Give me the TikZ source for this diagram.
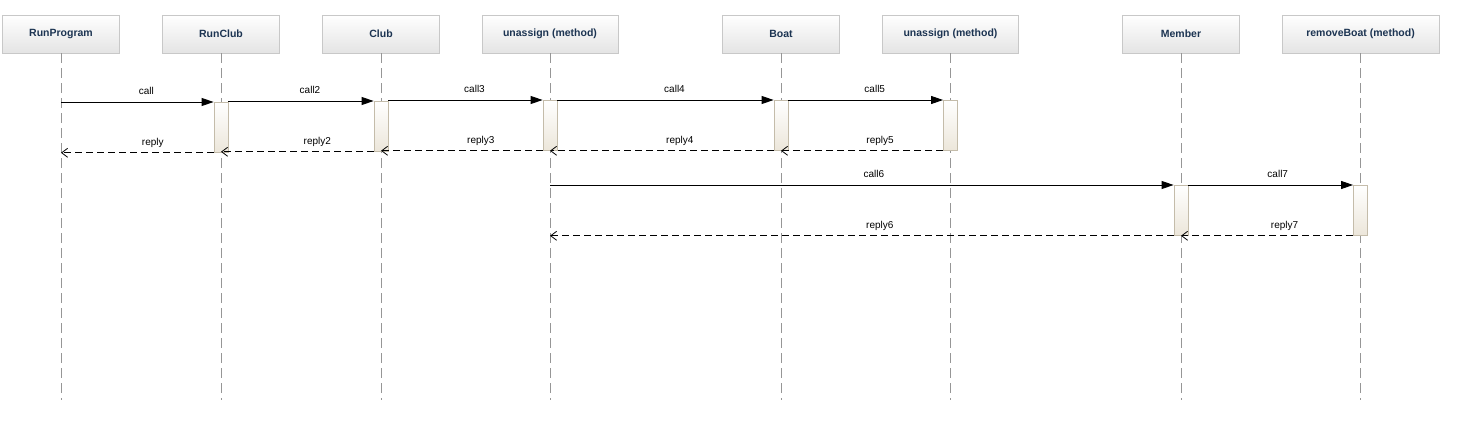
\documentclass[tikz,border=0pt]{standalone}
\usepackage{fontspec}
\setmainfont{Liberation Sans}
\usetikzlibrary{arrows.meta,calc}
\definecolor{hdrtxt}{RGB}{28,52,82}
\definecolor{hdrbdr}{RGB}{200,200,200}
\definecolor{hdrbot}{RGB}{228,228,228}
\definecolor{actbdr}{RGB}{196,188,170}
\definecolor{actbot}{RGB}{236,230,218}
\definecolor{lifegray}{RGB}{150,150,150}
\tikzset{
  header/.style={draw=hdrbdr, line width=0.8pt, top color=white, bottom color=hdrbot,
    minimum height=38pt, inner sep=0pt, text=hdrtxt,
    font=\fontsize{10.5}{12}\selectfont\bfseries},
  activ/.style={draw=actbdr, line width=0.8pt, top color=white, bottom color=actbot,
    minimum width=14pt, inner sep=0pt},
  lifeline/.style={draw=lifegray, line width=0.8pt, dash pattern=on 10pt off 5pt},
  callmsg/.style={draw=black, line width=0.9pt, -{Triangle[length=12pt,width=8pt]}},
  replymsg/.style={draw=black, line width=0.9pt, dash pattern=on 7pt off 4pt,
    -{Straight Barb[length=6pt,width=9pt,line width=0.8pt]}},
  lbl/.style={font=\fontsize{10}{12}\selectfont, anchor=base, inner sep=0pt, yshift=7pt}
}
\begin{document}
\begin{tikzpicture}[x=1pt,y=-1pt]
\useasboundingbox (0,0) rectangle (1459,435);
% headers
\node[header, minimum width=117pt] (h1) at (61,34) {RunProgram};
\node[header, minimum width=117pt] (h2) at (221,34) {RunClub};
\node[header, minimum width=117pt] (h3) at (381,34) {Club};
\node[header, minimum width=136pt] (h4) at (550,34) {unassign (method)};
\node[header, minimum width=117pt] (h5) at (781,34) {Boat};
\node[header, minimum width=136pt] (h6) at (950.5,34) {unassign (method)};
\node[header, minimum width=117pt] (h7) at (1181,34) {Member};
\node[header, minimum width=157pt] (h8) at (1360.5,34) {removeBoat (method)};
% lifeline ends
\foreach \i in {1,...,8} {
  \coordinate (l\i) at (h\i.south |- 0,400);
  \draw[lifeline] (h\i.south) -- (l\i);
}
% activations
\node[activ, minimum height=50pt, anchor=north] (a2) at (h2.south |- 0,102) {};
\node[activ, minimum height=50pt, anchor=north] (a3) at (h3.south |- 0,101) {};
\node[activ, minimum height=50pt, anchor=north] (a4) at (h4.south |- 0,100) {};
\node[activ, minimum height=50pt, anchor=north] (a5) at (h5.south |- 0,100) {};
\node[activ, minimum height=50pt, anchor=north] (a6) at (h6.south |- 0,100) {};
\node[activ, minimum height=50pt, anchor=north] (a7) at (h7.south |- 0,185) {};
\node[activ, minimum height=50pt, anchor=north] (a8) at (h8.south |- 0,185) {};
% calls
\draw[callmsg] (l1 |- a2.north) -- node[lbl, xshift=9pt] {call} (a2.north west);
\draw[callmsg] (a2.east |- a3.north) -- node[lbl, xshift=9pt] {call2} (a3.north west);
\draw[callmsg] (a3.east |- a4.north) -- node[lbl, xshift=9pt] {call3} (a4.north west);
\draw[callmsg] (a4.north east) -- node[lbl, xshift=9pt] {call4} (a5.north west);
\draw[callmsg] (a5.north east) -- node[lbl, xshift=9pt] {call5} (a6.north west);
\draw[callmsg] (l4 |- a7.north) -- node[lbl, xshift=12pt] {call6} (a7.north west);
\draw[callmsg] (a7.north east) -- node[lbl, xshift=7pt] {call7} (a8.north west);
% replies
\draw[replymsg] (a2.south west) -- node[lbl, xshift=15.5pt] {reply} (l1 |- a2.south);
\draw[replymsg] (a3.south west) -- node[lbl, xshift=20pt] {reply2} (l2 |- a3.south);
\draw[replymsg] (a4.south west) -- node[lbl, xshift=19pt] {reply3} (l3 |- a4.south);
\draw[replymsg] (a5.south west) -- node[lbl, xshift=18pt] {reply4} (l4 |- a5.south);
\draw[replymsg] (a6.south west) -- node[lbl, xshift=18pt] {reply5} (l5 |- a6.south);
\draw[replymsg] (a7.south west) -- node[lbl, xshift=18pt] {reply6} (l4 |- a7.south);
\draw[replymsg] (a8.south west) -- node[lbl, xshift=17.5pt] {reply7} (l7 |- a8.south);
\end{tikzpicture}
\end{document}
